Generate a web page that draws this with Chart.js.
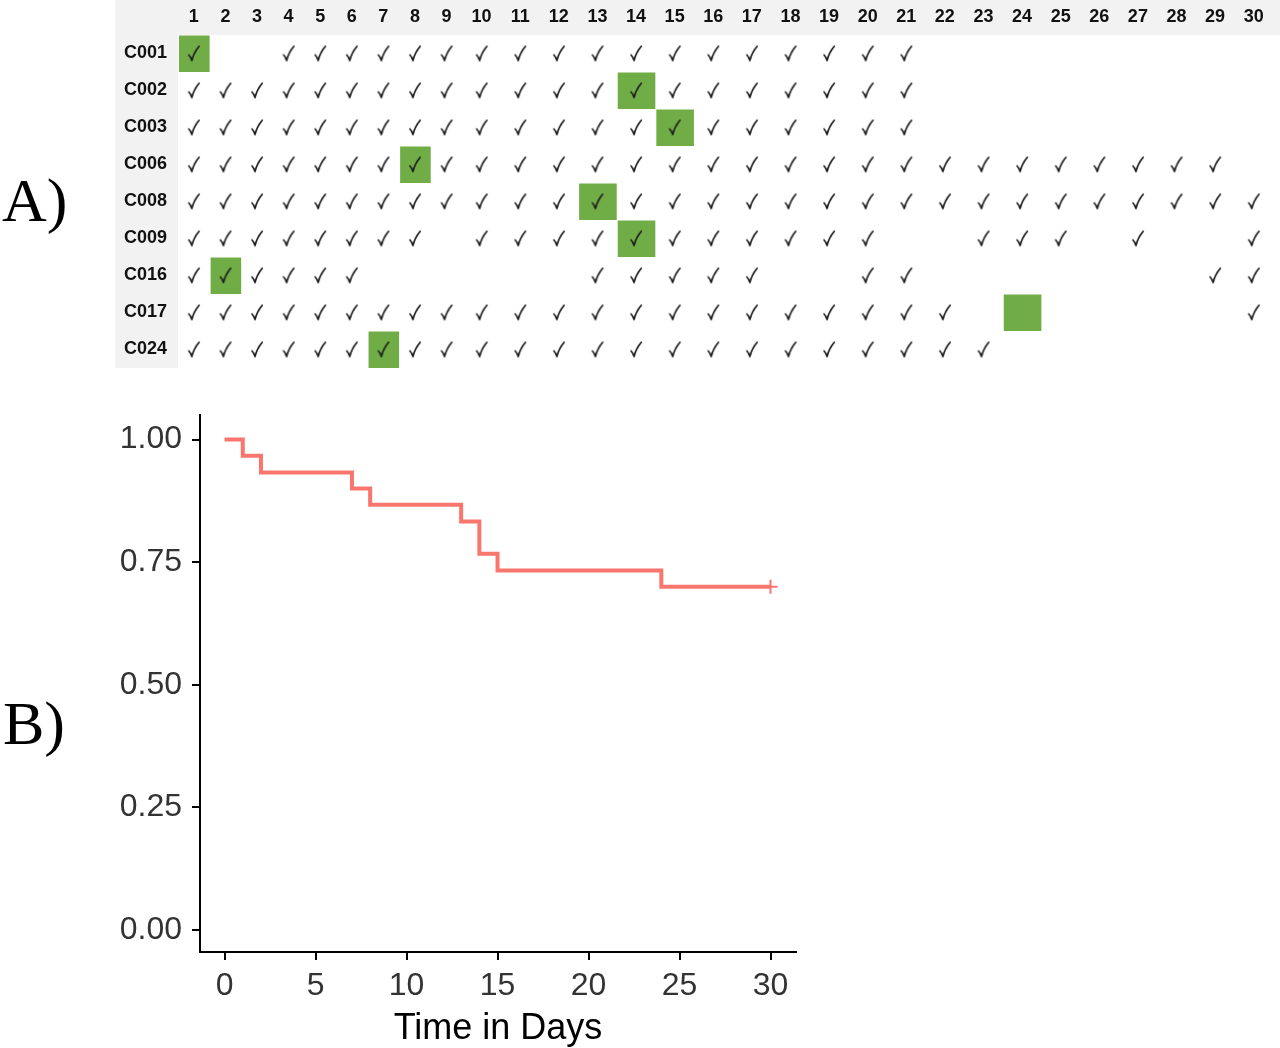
<!DOCTYPE html>
<html>
<head>
<meta charset="utf-8">
<script src="https://cdn.jsdelivr.net/npm/chart.js@4.4.1/dist/chart.umd.min.js"></script>
<style>
  html, body { margin: 0; padding: 0; background: #fff; }
  body { width: 1280px; height: 1048px; position: relative; overflow: hidden; }
  .panel-label { position: absolute; font-family: "Liberation Serif", "Times New Roman", serif; font-size: 62px; line-height: 1; color: #000; }
  #gridWrap { position: absolute; left: 115px; top: 0; width: 1165px; height: 375px; }
  #kmWrap { position: absolute; left: 0; top: 395px; width: 830px; height: 656px; }
</style>
</head>
<body>
<div class="panel-label" style="left:2px; top:169px">A)</div>
<div class="panel-label" style="left:3px; top:692px">B)</div>
<div id="gridWrap"><canvas id="grid"></canvas></div>
<div id="kmWrap"><canvas id="km"></canvas></div>
<script>
// ---- Panel A: visit table ----
const subjects = ['C001', 'C002', 'C003', 'C006', 'C008', 'C009', 'C016', 'C017', 'C024'];
const dayLabels = [1, 2, 3, 4, 5, 6, 7, 8, 9, 10, 11, 12, 13, 14, 15,
                   16, 17, 18, 19, 20, 21, 22, 23, 24, 25, 26, 27, 28, 29, 30];
// one string per subject, one char per day: x = ticked, . = empty
const visitRows = [
  'x..xxxxxxxxxxxxxxxxxx.........',
  'xxxxxxxxxxxxxxxxxxxxx.........',
  'xxxxxxxxxxxxxxxxxxxxx.........',
  'xxxxxxxxxxxxxxxxxxxxxxxxxxxxx.',
  'xxxxxxxxxxxxxxxxxxxxxxxxxxxxxx',
  'xxxxxxxx.xxxxxxxxxxx..xxx.x..x',
  'xxxxxx......xxxxx..xx.......xx',
  'xxxxxxxxxxxxxxxxxxxxxx.......x',
  'xxxxxxxxxxxxxxxxxxxxxxx.......'
];
// day of the event (green cell) per subject
const eventDays = [1, 14, 15, 8, 13, 14, 2, 24, 7];

// ---- Panel B: Kaplan-Meier ----
const kmTimes = [0, 1, 2, 7, 8, 13, 14, 15, 24, 30];
const kmSurvival = [1.00, 0.967, 0.933, 0.900, 0.867, 0.833, 0.767, 0.733, 0.700, 0.700];
const censorTimes = [30];
const censorSurvival = [0.700];
const kmXTicks = [0, 5, 10, 15, 20, 25, 30];
const kmYTicks = [0, 0.25, 0.5, 0.75, 1];

const GREEN = '#70AD47';
const BAND = '#F2F2F2';
const LABEL_COL_W = 63;
const TABLE_FONT = { family: '"Liberation Sans Narrow", "Liberation Sans", Arial', size: 18, weight: 'bold' };

// Excel-ish autofit: one-digit columns are narrower than two-digit ones
const colWidth = (label) => String(label).length === 1 ? 31.75 : 38.8;
const colStarts = [];
let acc = 0;
dayLabels.forEach(d => { colStarts.push(acc); acc += colWidth(d); });
const tableWidth = acc;
const colCenter = (i) => colStarts[i] + colWidth(dayLabels[i]) / 2;

function makeTick() {
  const c = document.createElement('canvas');
  c.width = 14; c.height = 18;
  const g = c.getContext('2d');
  g.strokeStyle = '#1e1e1e';
  g.lineWidth = 1.7;
  g.lineCap = 'round';
  g.lineJoin = 'round';
  g.beginPath();
  g.moveTo(2, 10.5);
  g.quadraticCurveTo(4, 12.5, 5, 16);
  g.quadraticCurveTo(7, 8, 12.3, 1.8);
  g.stroke();
  return c;
}

const tickPoints = [];
visitRows.forEach((row, r) => {
  row.split('').forEach((ch, i) => {
    if (ch === 'x') tickPoints.push({ x: colCenter(i), y: subjects[r] });
  });
});

// header band, label column and event cells go under the axes and ticks
const tableBackground = {
  id: 'tableBackground',
  beforeDraw(chart) {
    const { ctx, chartArea, scales: { x, y } } = chart;
    ctx.save();
    ctx.fillStyle = BAND;
    ctx.fillRect(0, 0, chart.width, chartArea.top);
    ctx.fillRect(0, chartArea.top, chartArea.left, chartArea.bottom - chartArea.top);
    const rowH = (chartArea.bottom - chartArea.top) / subjects.length;
    ctx.fillStyle = GREEN;
    eventDays.forEach((d, r) => {
      const i = dayLabels.indexOf(d);
      const x0 = x.getPixelForValue(colStarts[i]);
      const x1 = x.getPixelForValue(colStarts[i] + colWidth(d));
      const yc = y.getPixelForValue(r);
      ctx.fillRect(x0 + 1, yc - rowH / 2 + 0.5, x1 - x0 - 1, rowH - 0.5);
    });
    ctx.restore();
  }
};

new Chart(document.getElementById('grid'), {
  type: 'scatter',
  data: {
    datasets: [{
      data: tickPoints,
      pointStyle: makeTick(),
      pointRadius: 6,
      pointHoverRadius: 6
    }]
  },
  options: {
    responsive: true,
    maintainAspectRatio: false,
    animation: false,
    events: [],
    layout: { padding: 0 },
    plugins: { legend: { display: false }, tooltip: { enabled: false } },
    scales: {
      x: {
        type: 'linear',
        position: 'top',
        min: 0,
        max: tableWidth,
        afterBuildTicks: (s) => { s.ticks = dayLabels.map((d, i) => ({ value: colCenter(i) })); },
        afterFit: (s) => { s.height = 35; s.paddingLeft = 0; s.paddingRight = 0; },
        grid: { display: false, drawTicks: false },
        border: { display: false },
        ticks: {
          autoSkip: false,
          maxRotation: 0,
          padding: 7,
          color: '#111',
          font: TABLE_FONT,
          callback: (v, i) => dayLabels[i]
        }
      },
      y: {
        type: 'category',
        labels: subjects,
        offset: true,
        position: 'left',
        afterFit: (s) => { s.width = LABEL_COL_W; s.paddingTop = 0; s.paddingBottom = 0; },
        grid: { display: false, drawTicks: false },
        border: { display: false },
        ticks: {
          padding: 11,
          color: '#111',
          font: TABLE_FONT
        }
      }
    }
  },
  plugins: [tableBackground]
});

// ---- Kaplan-Meier chart ----
const KM_RED = '#F8766D';
new Chart(document.getElementById('km'), {
  type: 'line',
  data: {
    datasets: [{
      data: kmTimes.map((t, i) => ({ x: t, y: kmSurvival[i] })),
      borderColor: KM_RED,
      borderWidth: 4,
      stepped: true,
      pointRadius: 0,
      fill: false
    }, {
      type: 'scatter',
      data: censorTimes.map((t, i) => ({ x: t, y: censorSurvival[i] })),
      pointStyle: 'cross',
      pointRadius: 7,
      borderColor: KM_RED,
      borderWidth: 2,
      pointBorderWidth: 2
    }]
  },
  options: {
    responsive: true,
    maintainAspectRatio: false,
    animation: false,
    events: [],
    layout: { padding: { top: 20, right: 34, left: 0, bottom: 0 } },
    plugins: { legend: { display: false }, tooltip: { enabled: false } },
    scales: {
      x: {
        type: 'linear',
        min: -1.35,
        max: 31.4,
        afterBuildTicks: (s) => { s.ticks = kmXTicks.map(v => ({ value: v })); },
        afterFit: (s) => { s.height = 99; s.paddingLeft = 0; s.paddingRight = 0; },
        grid: { drawOnChartArea: false, drawTicks: true, tickLength: 8, color: '#000', lineWidth: 2 },
        border: { display: true, color: '#000', width: 2 },
        ticks: {
          padding: 7,
          color: '#333',
          font: { family: '"Liberation Sans", Arial', size: 32 }
        },
        title: {
          display: true,
          text: 'Time in Days',
          color: '#000',
          padding: { top: 0, bottom: 0 },
          font: { family: '"Liberation Sans", Arial', size: 36 }
        }
      },
      y: {
        type: 'linear',
        min: -0.045,
        max: 1.05,
        afterBuildTicks: (s) => { s.ticks = kmYTicks.map(v => ({ value: v })); },
        afterFit: (s) => { s.width = 200; s.paddingTop = 0; s.paddingBottom = 0; },
        grid: { drawOnChartArea: false, drawTicks: true, tickLength: 8, color: '#000', lineWidth: 2 },
        border: { display: true, color: '#000', width: 2 },
        ticks: {
          padding: 10,
          color: '#333',
          font: { family: '"Liberation Sans", Arial', size: 32 },
          callback: (v) => Number(v).toFixed(2)
        }
      }
    }
  }
});
</script>
</body>
</html>
